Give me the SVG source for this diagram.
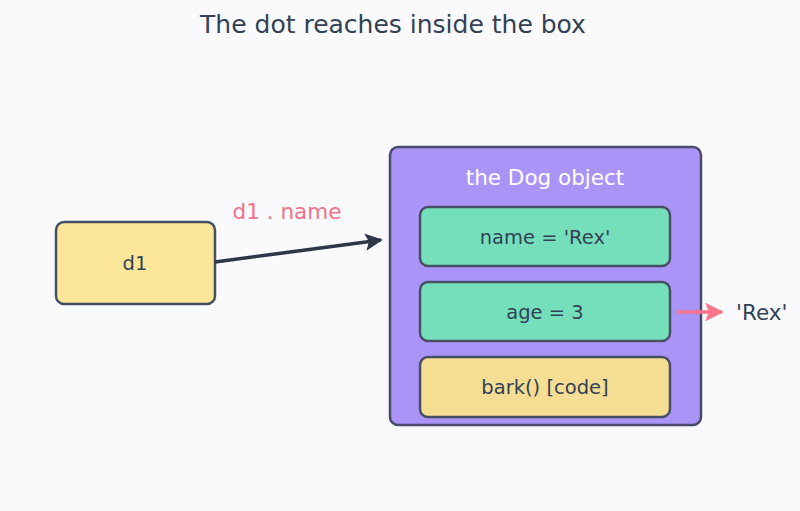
<svg xmlns="http://www.w3.org/2000/svg" width="800" height="511" viewBox="0 0 800 511">
<style>
text{font-family:"DejaVu Sans","Liberation Sans",sans-serif;dominant-baseline:central}
.lbl{font-size:19.5px;fill:#334155;text-anchor:middle}
.box{stroke:#475063;stroke-width:2.5}
</style>
<defs>
<marker id="ah" viewBox="0 0 10 10" refX="9" refY="5" markerWidth="5" markerHeight="5" orient="auto" markerUnits="strokeWidth"><path d="M0,0 L10,5 L0,10 L2,5 z" fill="#2d3748"/></marker>
<marker id="ahp" viewBox="0 0 10 10" refX="9" refY="5" markerWidth="5.3" markerHeight="5.3" orient="auto" markerUnits="strokeWidth"><path d="M0,0 L10,5 L0,10 L2,5 z" fill="#f87489"/></marker>
</defs>
<rect width="800" height="511" fill="#fafafd"/>
<text x="393" y="24" style="font-size:25px;fill:#334155;text-anchor:middle">The dot reaches inside the box</text>
<g id="d1"><rect class="box" x="56" y="222" width="159" height="82" rx="8" fill="#fce699"/><text class="lbl" x="135" y="263">d1</text></g>
<g id="dog"><rect x="390" y="147" width="311" height="278" rx="8" fill="#ab94f8" stroke="#4a4a6a" stroke-width="2.5"/><text class="lbl" x="545" y="177" style="fill:#ffffff;font-size:21.5px">the Dog object</text></g>
<g id="name"><rect class="box" x="420" y="207" width="250" height="59" rx="8" fill="#75dfbc"/><text class="lbl" x="545" y="237">name = 'Rex'</text></g>
<g id="age"><rect class="box" x="420" y="282" width="250" height="59" rx="8" fill="#75dfbc"/><text class="lbl" x="545" y="312">age = 3</text></g>
<g id="bark"><rect class="box" x="420" y="357" width="250" height="60" rx="8" fill="#f5dd94"/><text class="lbl" x="545" y="387">bark() [code]</text></g>
<g id="rex"><text x="736" y="312" style="font-size:21.5px;fill:#334155">'Rex'</text></g>
<g id="connectors">
<line x1="215" y1="262" x2="381" y2="240" stroke="#2d3748" stroke-width="3.5" marker-end="url(#ah)"/>
<text x="287" y="211" style="font-size:21.5px;fill:#f0728a;text-anchor:middle">d1 . name</text>
<line x1="677" y1="312" x2="722" y2="312" stroke="#f87489" stroke-width="3.5" marker-end="url(#ahp)"/>
</g>
</svg>
